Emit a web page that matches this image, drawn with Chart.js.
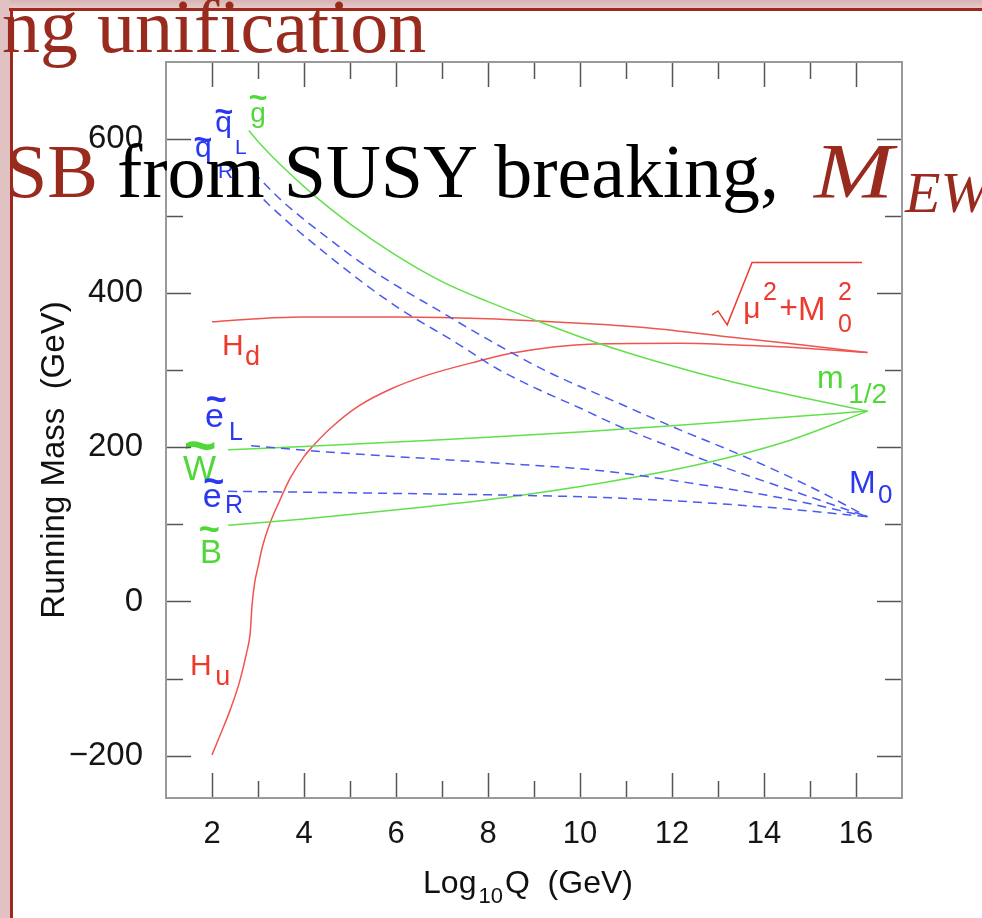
<!DOCTYPE html>
<html>
<head>
<meta charset="utf-8">
<script src="https://cdn.jsdelivr.net/npm/chart.js@4.4.1/dist/chart.umd.min.js"></script>
<style>
  html, body { margin: 0; padding: 0; }
  body { width: 982px; height: 918px; overflow: hidden; position: relative; background: #fff; }
  .band-top { position: absolute; left: 0; top: 0; width: 982px; height: 9px; background: linear-gradient(#d8b4b4, #e6cccc); }
  .band-left { position: absolute; left: 0; top: 0; width: 10px; height: 918px; background: #e0c2c2; }
  .rule-top { position: absolute; left: 9px; top: 8px; width: 973px; height: 3px; background: #a0281c; }
  .rule-left { position: absolute; left: 10px; top: 8px; width: 3px; height: 910px; background: #a0281c; }
  canvas { position: absolute; left: 0; top: 0; }
  .slide { position: absolute; font-family: "Liberation Serif", "Times New Roman", serif; white-space: nowrap; }
  .t1 { left: 2px; top: -12px; font-size: 76px; line-height: 76px; color: #982a1e; }
  .t2 { left: 5px; top: 133px; font-size: 76px; line-height: 76px; color: #000; }
  .t2 .dr { color: #982a1e; }
  .mew { left: 814px; top: 133px; font-size: 78px; line-height: 76px; color: #982a1e; font-style: italic; transform: scaleX(1.22); transform-origin: left; }
  .sub { left: 905px; top: 164px; font-size: 58px; line-height: 58px; color: #982a1e; font-style: italic; }
</style>
</head>
<body>
<div class="band-top"></div>
<div class="band-left"></div>
<div class="rule-top"></div>
<div class="rule-left"></div>
<canvas id="c" width="982" height="918"></canvas>
<div class="slide t1">ng unification</div>
<div class="slide t2"><span class="dr">SB</span> from SUSY breaking,</div>
<div class="slide mew">M</div>
<div class="slide sub">EW</div>
<script>
// Running of soft masses from the GUT scale down to the weak scale.
// Q is log10 of the scale in GeV; masses in GeV.
const gluinoQ = [2.8, 3.0, 3.5, 4.2, 5.0, 5.9, 7.0, 8.0, 8.9, 10.3, 11.8, 13.3, 14.8, 16.25];
const gluinoM = [611, 597, 566, 528, 490, 453, 415, 389, 368, 337, 309, 285, 265, 247];
const winoQ = [2.35, 4, 6, 8, 10, 12, 14, 16.25];
const winoM = [197, 201, 207, 213, 220, 228, 237, 247];
const binoQ = [2.35, 4, 5.2, 6.5, 8.5, 10.4, 12.6, 14.5, 16.25];
const binoM = [99, 107, 114, 122, 136, 153, 178, 208, 247];
const squarkLQ = [2.9, 3.5, 4.4, 5.5, 7.0, 8.0, 9.3, 10.7, 12.2, 13.5, 15.0, 16.25];
const squarkLM = [557, 521, 477, 429, 375, 340, 298, 261, 222, 190, 149, 110];
const squarkRQ = [2.9, 3.2, 4.65, 6.0, 7.3, 8.2, 9.1, 10.0, 10.9, 11.7, 13.0, 14.5, 16.25];
const squarkRM = [536, 517, 443, 383, 336, 302, 275, 251, 226, 207, 177, 146, 110];
const sleptonLQ = [2.85, 4.5, 8.1, 10.4, 12.8, 14.5, 16.25];
const sleptonLM = [202, 194, 180, 170, 150, 133, 110];
const sleptonRQ = [2.35, 5, 8.4, 10.5, 12.75, 14.5, 16.25];
const sleptonRM = [143, 141, 138, 135, 128, 120, 110];
const higgsUQ = [2.0, 2.2, 2.4, 2.6, 2.75, 2.83, 2.87, 2.93, 3.0, 3.1, 3.25, 3.45, 3.7, 4.0, 4.2, 4.6, 5.2, 5.9, 6.7, 7.8, 8.5, 10.3, 12.2, 13.3, 14.8, 16.25];
const higgsUM = [-199, -170, -140, -104, -67, -41, -5, 25, 45, 72, 100, 128, 160, 188, 202, 226, 254, 276, 294, 312, 322, 334, 335, 333, 329, 323];
const higgsDQ = [2, 3, 4, 6, 8, 10, 11.5, 13.3, 14.8, 16.25];
const higgsDM = [363, 367, 369, 369, 367, 361, 355, 343, 333, 323];

// axis ticks
const xTickLabels = [2, 4, 6, 8, 10, 12, 14, 16];
const xMinorTicks = [3, 5, 7, 9, 11, 13, 15];
const yTickLabels = [-200, 0, 200, 400, 600];
const yMinorTicks = [-100, 100, 300, 500];

const FONT = '"Liberation Sans", Arial, Helvetica, sans-serif';
const LINE_GREEN = '#62e04c', LINE_RED = '#f05450', LINE_BLUE = '#4a5af0';
const TXT_GREEN = '#4fd838', TXT_RED = '#ee3a2e', TXT_BLUE = '#2a38f0';

const pts = (qs, ms) => qs.map((q, i) => ({ x: q, y: ms[i] }));
function series(label, qs, ms, color, dashed) {
  return {
    label, data: pts(qs, ms), borderColor: color, borderWidth: 1.5,
    borderDash: dashed ? [9, 6] : [], pointRadius: 0, fill: false,
    cubicInterpolationMode: 'monotone'
  };
}

// text annotations, placed in data units: [text, Q, GeV, colour, size, tilde?]
const notes = [
  ['g', 2.83, 622, TXT_GREEN, 28], ['~', 3.0, 652, TXT_GREEN, 32, true],
  ['q', 2.07, 609, TXT_BLUE, 30], ['~', 2.26, 633, TXT_BLUE, 32, true], ['L', 2.5, 581, TXT_BLUE, 21],
  ['q', 1.63, 577, TXT_BLUE, 30], ['~', 1.80, 597, TXT_BLUE, 32, true], ['R', 2.13, 549, TXT_BLUE, 21],
  ['H', 2.22, 320, TXT_RED, 30], ['d', 2.72, 307, TXT_RED, 27],
  ['e', 1.85, 226, TXT_BLUE, 34], ['~', 2.09, 260, TXT_BLUE, 36, true], ['L', 2.37, 210, TXT_BLUE, 25],
  ['W', 1.37, 158, TXT_GREEN, 35], ['~', 1.74, 198, TXT_GREEN, 56, true],
  ['e', 1.80, 123, TXT_BLUE, 34], ['~', 2.04, 154, TXT_BLUE, 36, true], ['R', 2.28, 115, TXT_BLUE, 25],
  ['B', 1.74, 50, TXT_GREEN, 33], ['~', 1.94, 91, TXT_GREEN, 36, true],
  ['H', 1.52, -95, TXT_RED, 30], ['u', 2.07, -108, TXT_RED, 27],
  ['\u03bc', 13.55, 368, TXT_RED, 30], ['2', 13.98, 391, TXT_RED, 25], ['+', 14.33, 368, TXT_RED, 32],
  ['M', 14.74, 365, TXT_RED, 33], ['2', 15.61, 391, TXT_RED, 25], ['0', 15.61, 350, TXT_RED, 25],
  ['m', 15.15, 277, TXT_GREEN, 32], ['1/2', 15.83, 258, TXT_GREEN, 28],
  ['M', 15.85, 141, TXT_BLUE, 32], ['0', 16.48, 128, TXT_BLUE, 26]
];
// radical sign over mu^2 + M0^2, in data units
const radical = [[12.87, 372], [13.0, 377], [13.2, 359], [13.74, 440], [16.13, 440]];

const framePlugin = {
  id: 'frame',
  afterDatasetsDraw(chart) {
    const { ctx, chartArea: a, scales: { x, y } } = chart;
    ctx.save();
    // annotations
    for (const [t, q, m, col, size, tilde] of notes) {
      const px = x.getPixelForValue(q), py = y.getPixelForValue(m);
      ctx.fillStyle = col;
      if (tilde) {
        ctx.font = 'bold ' + size + 'px ' + FONT;
        ctx.textAlign = 'center'; ctx.textBaseline = 'middle';
      } else {
        ctx.font = size + 'px ' + FONT;
        ctx.textAlign = 'left'; ctx.textBaseline = 'alphabetic';
      }
      ctx.fillText(t, px, py);
    }
    ctx.strokeStyle = TXT_RED; ctx.lineWidth = 1.5;
    ctx.beginPath();
    radical.forEach(([q, m], i) => {
      const px = x.getPixelForValue(q), py = y.getPixelForValue(m);
      i ? ctx.lineTo(px, py) : ctx.moveTo(px, py);
    });
    ctx.stroke();

    // inward tick marks on all four sides
    ctx.strokeStyle = '#555'; ctx.lineWidth = 1.5;
    const seg = (x1, y1, x2, y2) => { ctx.beginPath(); ctx.moveTo(x1, y1); ctx.lineTo(x2, y2); ctx.stroke(); };
    const xt = (vals, len) => vals.forEach(v => {
      const p = Math.round(x.getPixelForValue(v)) + 0.5;
      seg(p, a.bottom, p, a.bottom - len); seg(p, a.top, p, a.top + len);
    });
    const yt = (vals, len) => vals.forEach(v => {
      const p = Math.round(y.getPixelForValue(v)) + 0.5;
      seg(a.left, p, a.left + len, p); seg(a.right, p, a.right - len, p);
    });
    xt(xTickLabels, 25); xt(xMinorTicks, 17);
    yt(yTickLabels, 25); yt(yMinorTicks, 17);

    // box
    ctx.strokeStyle = '#9a9a9a'; ctx.lineWidth = 2;
    ctx.strokeRect(a.left, a.top, a.right - a.left, a.bottom - a.top);

    // axis titles
    ctx.fillStyle = '#111';
    ctx.textBaseline = 'alphabetic';
    const big = '32px ' + FONT, small = '22px ' + FONT;
    ctx.font = big; const w1 = ctx.measureText('Log').width;
    ctx.font = small; const w2 = ctx.measureText('10').width;
    ctx.font = big; const w3 = ctx.measureText('Q  (GeV)').width;
    let sx = (a.left + a.right) / 2 - (w1 + w2 + w3 + 4) / 2 - 6;
    const by = a.bottom + 95;
    ctx.textAlign = 'left';
    ctx.font = big; ctx.fillText('Log', sx, by); sx += w1 + 2;
    ctx.font = small; ctx.fillText('10', sx, by + 10); sx += w2 + 2;
    ctx.font = big; ctx.fillText('Q  (GeV)', sx, by);

    ctx.translate(64, a.top + 398);
    ctx.rotate(-Math.PI / 2);
    ctx.textAlign = 'center';
    ctx.font = '33px ' + FONT;
    ctx.fillText('Running Mass  (GeV)', 0, 0);
    ctx.restore();
  }
};

new Chart(document.getElementById('c'), {
  type: 'line',
  data: {
    datasets: [
      series('squark L', squarkLQ, squarkLM, LINE_BLUE, true),
      series('squark R', squarkRQ, squarkRM, LINE_BLUE, true),
      series('slepton L', sleptonLQ, sleptonLM, LINE_BLUE, true),
      series('slepton R', sleptonRQ, sleptonRM, LINE_BLUE, true),
      series('gluino', gluinoQ, gluinoM, LINE_GREEN, false),
      series('wino', winoQ, winoM, LINE_GREEN, false),
      series('bino', binoQ, binoM, LINE_GREEN, false),
      series('Hd', higgsDQ, higgsDM, LINE_RED, false),
      series('Hu', higgsUQ, higgsUM, LINE_RED, false)
    ]
  },
  options: {
    responsive: false,
    animation: false,
    devicePixelRatio: 1,
    layout: { padding: { top: 62, right: 80, left: 0, bottom: 0 } },
    plugins: { legend: { display: false }, tooltip: { enabled: false } },
    scales: {
      x: {
        type: 'linear', min: 1, max: 17,
        afterBuildTicks: s => { s.ticks = xTickLabels.map(v => ({ value: v })); },
        afterFit: s => { s.height = 120; },
        grid: { display: false, drawTicks: false, tickLength: 0 },
        border: { display: false },
        ticks: { font: { family: FONT, size: 31 }, color: '#151515', padding: 18, maxRotation: 0, autoSkip: false }
      },
      y: {
        type: 'linear', min: -255, max: 700,
        afterBuildTicks: s => { s.ticks = yTickLabels.map(v => ({ value: v })); },
        afterFit: s => { s.width = 166; },
        grid: { display: false, drawTicks: false, tickLength: 0 },
        border: { display: false },
        ticks: {
          font: { family: FONT, size: 33 }, color: '#151515', padding: 23, autoSkip: false,
          callback: v => String(v).replace('-', '\u2212')
        }
      }
    }
  },
  plugins: [framePlugin]
});
</script>
</body>
</html>
